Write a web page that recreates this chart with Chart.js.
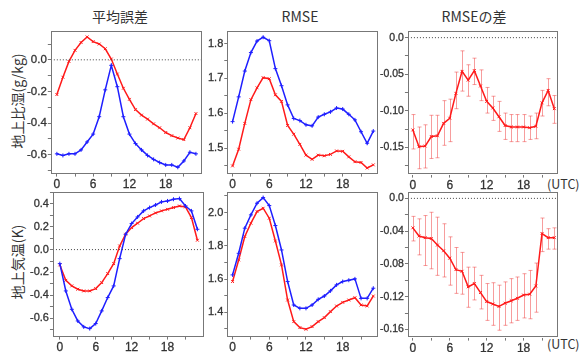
<!DOCTYPE html>
<html><head><meta charset="utf-8">
<script src="https://cdn.jsdelivr.net/npm/chart.js@4"></script>
<style>
body{margin:0;background:#fff;width:582px;height:352px;position:relative;overflow:hidden;font-family:"Noto Sans CJK JP",sans-serif;color:#333}
canvas{position:absolute}
.t{position:absolute;top:6px;font-size:14px;white-space:nowrap;transform:translateX(-50%)}
.r{position:absolute;font-size:14px;white-space:nowrap;transform:translate(-50%,-50%) rotate(-90deg)}
.u{position:absolute;font-size:12.5px;line-height:15px;white-space:nowrap}
</style></head><body>
<div class="t" style="left:120px">平均誤差</div>
<div class="t" style="left:300px">RMSE</div>
<div class="t" style="left:474px">RMSEの差</div>
<div class="r" style="left:17px;top:101px">地上比湿(g/kg)</div>
<div class="r" style="left:17px;top:262px">地上気温(K)</div>
<div class="u" style="left:547px;top:176px">(UTC)</div>
<div class="u" style="left:547px;top:336px">(UTC)</div>
<script>
const hours = [0,1,2,3,4,5,6,7,8,9,10,11,12,13,14,15,16,17,18,19,20,21,22,23];

// 地上比湿
const qBiasRed  = [-0.22,-0.11,-0.01,0.06,0.11,0.145,0.115,0.10,0.07,0.005,-0.09,-0.18,-0.25,-0.315,-0.35,-0.375,-0.405,-0.43,-0.46,-0.48,-0.495,-0.505,-0.43,-0.34];
const qBiasBlue = [-0.595,-0.605,-0.595,-0.595,-0.57,-0.52,-0.47,-0.36,-0.19,-0.035,-0.17,-0.36,-0.47,-0.53,-0.57,-0.605,-0.63,-0.65,-0.665,-0.665,-0.68,-0.64,-0.585,-0.595];
const qRmseBlue = [1.576,1.647,1.721,1.774,1.807,1.818,1.808,1.728,1.679,1.624,1.585,1.579,1.567,1.564,1.589,1.597,1.604,1.615,1.612,1.597,1.581,1.547,1.514,1.549];
const qRmseRed  = [1.449,1.497,1.571,1.639,1.673,1.702,1.699,1.653,1.634,1.565,1.540,1.511,1.480,1.468,1.480,1.478,1.482,1.492,1.491,1.475,1.461,1.459,1.443,1.452];
const qDiff   = [-0.126,-0.149,-0.148,-0.135,-0.134,-0.117,-0.110,-0.076,-0.046,-0.058,-0.045,-0.066,-0.087,-0.096,-0.108,-0.120,-0.122,-0.122,-0.122,-0.123,-0.121,-0.089,-0.072,-0.097];
const qDiffHi = [-0.105,-0.122,-0.119,-0.106,-0.106,-0.086,-0.084,-0.047,-0.018,-0.037,-0.028,-0.044,-0.068,-0.080,-0.087,-0.103,-0.105,-0.105,-0.105,-0.107,-0.103,-0.072,-0.056,-0.079];
const qDiffLo = [-0.152,-0.179,-0.178,-0.165,-0.164,-0.147,-0.142,-0.097,-0.073,-0.080,-0.064,-0.086,-0.103,-0.113,-0.128,-0.139,-0.142,-0.142,-0.142,-0.139,-0.138,-0.107,-0.093,-0.117];

// 地上気温
const tBiasBlue = [-0.123,-0.362,-0.523,-0.625,-0.677,-0.692,-0.648,-0.537,-0.420,-0.318,-0.079,0.134,0.228,0.286,0.339,0.368,0.391,0.418,0.426,0.441,0.447,0.382,0.339,0.178];
const tBiasRed  = [-0.134,-0.269,-0.318,-0.347,-0.362,-0.362,-0.342,-0.289,-0.210,-0.123,0.032,0.134,0.193,0.231,0.272,0.295,0.321,0.339,0.353,0.368,0.382,0.374,0.280,0.082];
const tRmseBlue = [1.625,1.755,1.906,1.986,2.056,2.090,2.042,1.922,1.775,1.585,1.444,1.424,1.424,1.444,1.478,1.498,1.529,1.565,1.585,1.593,1.601,1.484,1.484,1.545];
const tRmseRed  = [1.585,1.715,1.856,1.936,2.006,2.026,1.966,1.829,1.685,1.474,1.344,1.308,1.298,1.314,1.344,1.368,1.404,1.438,1.460,1.474,1.488,1.444,1.438,1.498];
const tDiff   = [-0.036,-0.046,-0.048,-0.049,-0.057,-0.064,-0.073,-0.087,-0.089,-0.108,-0.104,-0.115,-0.126,-0.129,-0.132,-0.128,-0.125,-0.122,-0.118,-0.117,-0.107,-0.043,-0.048,-0.048];
const tDiffHi = [-0.022,-0.025,-0.021,-0.017,-0.023,-0.031,-0.047,-0.060,-0.066,-0.084,-0.084,-0.094,-0.104,-0.103,-0.106,-0.102,-0.098,-0.096,-0.092,-0.088,-0.079,-0.024,-0.037,-0.036];
const tDiffLo = [-0.052,-0.069,-0.082,-0.086,-0.094,-0.096,-0.106,-0.116,-0.117,-0.133,-0.124,-0.135,-0.149,-0.155,-0.161,-0.155,-0.152,-0.149,-0.146,-0.147,-0.139,-0.065,-0.062,-0.062];

const xTicks = [0,3,6,9,12,15,18,21];
const RED = '#ff1a1a', BLUE = '#1f1fff';

// box = [left, top, width, height] of the plot frame in page pixels
const panels = [
  {box:[51,31,151,143], x:[-1,24], y:[-0.72,0.183], step:0.1, dec:1, fs:11.5, zero:true, red:qBiasRed, blue:qBiasBlue},
  {box:[227,31,151,143], x:[-0.86,23.77], y:[1.427,1.837], step:0.05, dec:1, fs:11, red:qRmseRed, blue:qRmseBlue},
  {box:[408,31,150,143], x:[-0.8,23.6], y:[-0.187,0.0087], step:0.025, dec:2, fs:10.5, zero:true, red:qDiff, lo:qDiffLo, hi:qDiffHi},
  {box:[53,192,151,145], x:[-1.15,24.1], y:[-0.762,0.508], step:0.1, dec:1, fs:11, zero:true, red:tBiasRed, blue:tBiasBlue},
  {box:[227,192,151,145], x:[-0.86,23.77], y:[1.254,2.126], step:0.1, dec:1, fs:11, red:tRmseRed, blue:tRmseBlue},
  {box:[408,192,150,145], x:[-0.8,23.6], y:[-0.170,0.0074], step:0.02, dec:2, fs:10.5, zero:true, red:tDiff, lo:tDiffLo, hi:tDiffHi}
];

const framePlugin = {
  id:'frame',
  afterDraw(chart){
    const a = chart.chartArea, ctx = chart.ctx;
    ctx.save();
    ctx.strokeStyle = '#777'; ctx.lineWidth = 1;
    ctx.strokeRect(Math.round(a.left)+0.5, Math.round(a.top)+0.5, Math.round(a.right-a.left)-1, Math.round(a.bottom-a.top)-1);
    ctx.restore();
  }
};

const errPlugin = {
  id:'errbars',
  beforeDatasetsDraw(chart, args, opts){
    if (!opts.lo) return;
    const ctx = chart.ctx, xs = chart.scales.x, ys = chart.scales.y;
    ctx.save();
    ctx.strokeStyle = 'rgba(240,60,60,0.5)'; ctx.lineWidth = 1;
    hours.forEach((h,i) => {
      const px = Math.round(xs.getPixelForValue(h)) + 0.5;
      const y1 = ys.getPixelForValue(opts.hi[i]), y2 = ys.getPixelForValue(opts.lo[i]);
      ctx.beginPath();
      ctx.moveTo(px, y1); ctx.lineTo(px, y2);
      ctx.moveTo(px-2, y1); ctx.lineTo(px+2, y1);
      ctx.moveTo(px-2, y2); ctx.lineTo(px+2, y2);
      ctx.stroke();
    });
    ctx.restore();
  }
};

function makeChart(p, cv) {
  const tickFont = {family:'"Liberation Sans", Arial, sans-serif', size:p.fs};
  const datasets = [];
  if (p.zero) datasets.push({data:[{x:p.x[0], y:0},{x:p.x[1], y:0}], borderColor:'#444', borderWidth:1, borderDash:[1,2], pointRadius:0});
  if (p.blue) datasets.push({data:hours.map((hr,i)=>({x:hr, y:p.blue[i]})), borderColor:BLUE, backgroundColor:BLUE, borderWidth:1.5, pointStyle:'cross', pointRadius:2, pointBorderWidth:1});
  datasets.push({data:hours.map((hr,i)=>({x:hr, y:p.red[i]})), borderColor:RED, backgroundColor:RED, borderWidth:1.5, pointStyle:'crossRot', pointRadius:2, pointBorderWidth:1});

  return new Chart(cv, {
    type:'line',
    data:{datasets},
    plugins:[framePlugin, errPlugin],
    options:{
      responsive:false, maintainAspectRatio:false, animation:false, devicePixelRatio:1,
      layout:{padding:{top:2, right:2, left:2, bottom:0}},
      plugins:{legend:{display:false}, tooltip:{enabled:false}, errbars:{lo:p.lo, hi:p.hi}},
      scales:{
        x:{type:'linear', min:p.x[0], max:p.x[1],
          afterBuildTicks(s){ s.ticks = xTicks.map(v => ({value:v})); },
          ticks:{autoSkip:false, maxRotation:0, padding:1, color:'#333', font:{...tickFont, size:12},
            textStrokeColor:'#333', textStrokeWidth:0.3,
            callback:v => v % 6 === 0 ? String(v) : ''},
          grid:{drawOnChartArea:false, tickLength:3, color:'#777'}, border:{display:false}},
        y:{type:'linear', min:p.y[0], max:p.y[1],
          afterFit(s){ s.width += 6; },
          afterBuildTicks(s){
            const t = [];
            const k0 = Math.ceil(p.y[0]/p.step - 1e-6), k1 = Math.floor(p.y[1]/p.step + 1e-6);
            for (let k = k0; k <= k1; k++) t.push({value: +(k*p.step).toFixed(4)});
            s.ticks = t;
          },
          ticks:{autoSkip:false, padding:1, color:'#333', font:tickFont,
            textStrokeColor:'#333', textStrokeWidth:0.3,
            callback:v => {
              const k = Math.round(v / p.step);
              if (k % 2 !== 0) return '';
              if (Math.abs(v) < 1e-9) return '0.0';
              return v.toFixed(p.dec);
            }},
          grid:{drawOnChartArea:false, tickLength:3, color:'#777'}, border:{display:false}}
      }
    }
  });
}

panels.forEach(p => {
  const [bl, bt, bw, bh] = p.box;
  // first pass: measure how much room the axes take
  let w = bw + 70, h = bh + 30;
  let cv = document.createElement('canvas');
  cv.width = w; cv.height = h;
  document.body.appendChild(cv);
  let ch = makeChart(p, cv);
  let a = ch.chartArea;
  w = Math.round(w + bw - (a.right - a.left));
  h = Math.round(h + bh - (a.bottom - a.top));
  ch.destroy(); cv.remove();
  // second pass: exact frame size, then line the frame up with its place
  cv = document.createElement('canvas');
  cv.width = w; cv.height = h;
  document.body.appendChild(cv);
  ch = makeChart(p, cv);
  a = ch.chartArea;
  cv.style.left = (bl - Math.round(a.left)) + 'px';
  cv.style.top = (bt - Math.round(a.top)) + 'px';
});
</script>
</body></html>
